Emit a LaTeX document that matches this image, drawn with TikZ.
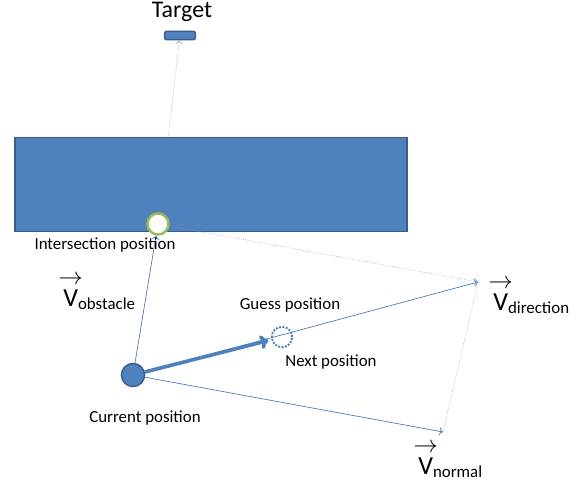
\documentclass[tikz,border=0pt]{standalone}
\usepackage{amsmath,mathtools}
\usepackage{fontspec}
\setmainfont{Carlito}
\usetikzlibrary{arrows.meta,calc}
\definecolor{fillblue}{HTML}{4F81BD}
\definecolor{edgeblue}{HTML}{385D8A}
\definecolor{lineblue}{HTML}{4A7EBB}
\definecolor{dotblue}{HTML}{7F9FCF}
\definecolor{leafgreen}{HTML}{9BBB59}
\newcommand{\vecname}[1]{{\fontsize{18.5}{20}\selectfont$\overset{\mathclap{\textstyle\rightarrow}}{\text{V}}$}\raisebox{-0.5ex}{\fontsize{12}{14}\selectfont #1}}

\begin{document}
\begin{tikzpicture}[x=0.025cm,y=-0.025cm,
  txt/.style={font=\fontsize{12}{14}\selectfont,inner sep=1pt},
  vlab/.style={inner sep=0pt,anchor=base west}]

\useasboundingbox (0,0) rectangle (584,487);

\node[draw=edgeblue,fill=fillblue,line width=1pt,rounded corners=1.5pt,minimum width=22pt,minimum height=6pt,inner sep=0] (target) at (180,35.5) {};
\node[font=\fontsize{17}{19}\selectfont] (targetlab) at (182,12) {Target};

\coordinate (isectpt) at (158,224);
\coordinate (dirpt) at (478,282);
\coordinate (normpt) at (443,432);

\draw[dotblue,densely dotted,-To] (isectpt) -- (target);

\node[draw=edgeblue,fill=fillblue,line width=1pt,minimum width=279pt,minimum height=67pt,inner sep=0] (obstacle) at (211,184.5) {};

\node[circle,draw=leafgreen,fill=white,line width=1.8pt,minimum size=15pt,inner sep=0] (isect) at (isectpt) {};
\node[circle,draw=edgeblue,fill=fillblue,line width=1pt,minimum size=16.5pt,inner sep=0] (current) at (133,375) {};
\node[circle,draw=fillblue,densely dotted,line width=1.4pt,minimum size=14.5pt,inner sep=0] (guess) at (282,337) {};

\path[lineblue,-To,line width=0.5pt]
  (current) edge (isect) (current) edge (dirpt) (current) edge (normpt);
\draw[dotblue,densely dotted,-To] (isect) -- (dirpt);
\draw[dotblue,densely dotted] (normpt) -- (dirpt);
\draw[fillblue,line width=2.6pt,-{To[length=6pt,width=10pt]},shorten >=2pt] (current) -- (guess);

\node[txt] (isectlab) at (105,245) {Intersection position};
\node[txt] (guesslab) at (290,305) {Guess position};
\node[txt] (nextlab) at (331,362) {Next position};
\node[txt] (currentlab) at (145,418) {Current position};

\node[vlab] (vobst) at (63,306) {\vecname{obstacle}};
\node[vlab] (vdir) at (493,310) {\vecname{direction}};
\node[vlab] (vnorm) at (418,474) {\vecname{normal}};

\end{tikzpicture}
\end{document}
